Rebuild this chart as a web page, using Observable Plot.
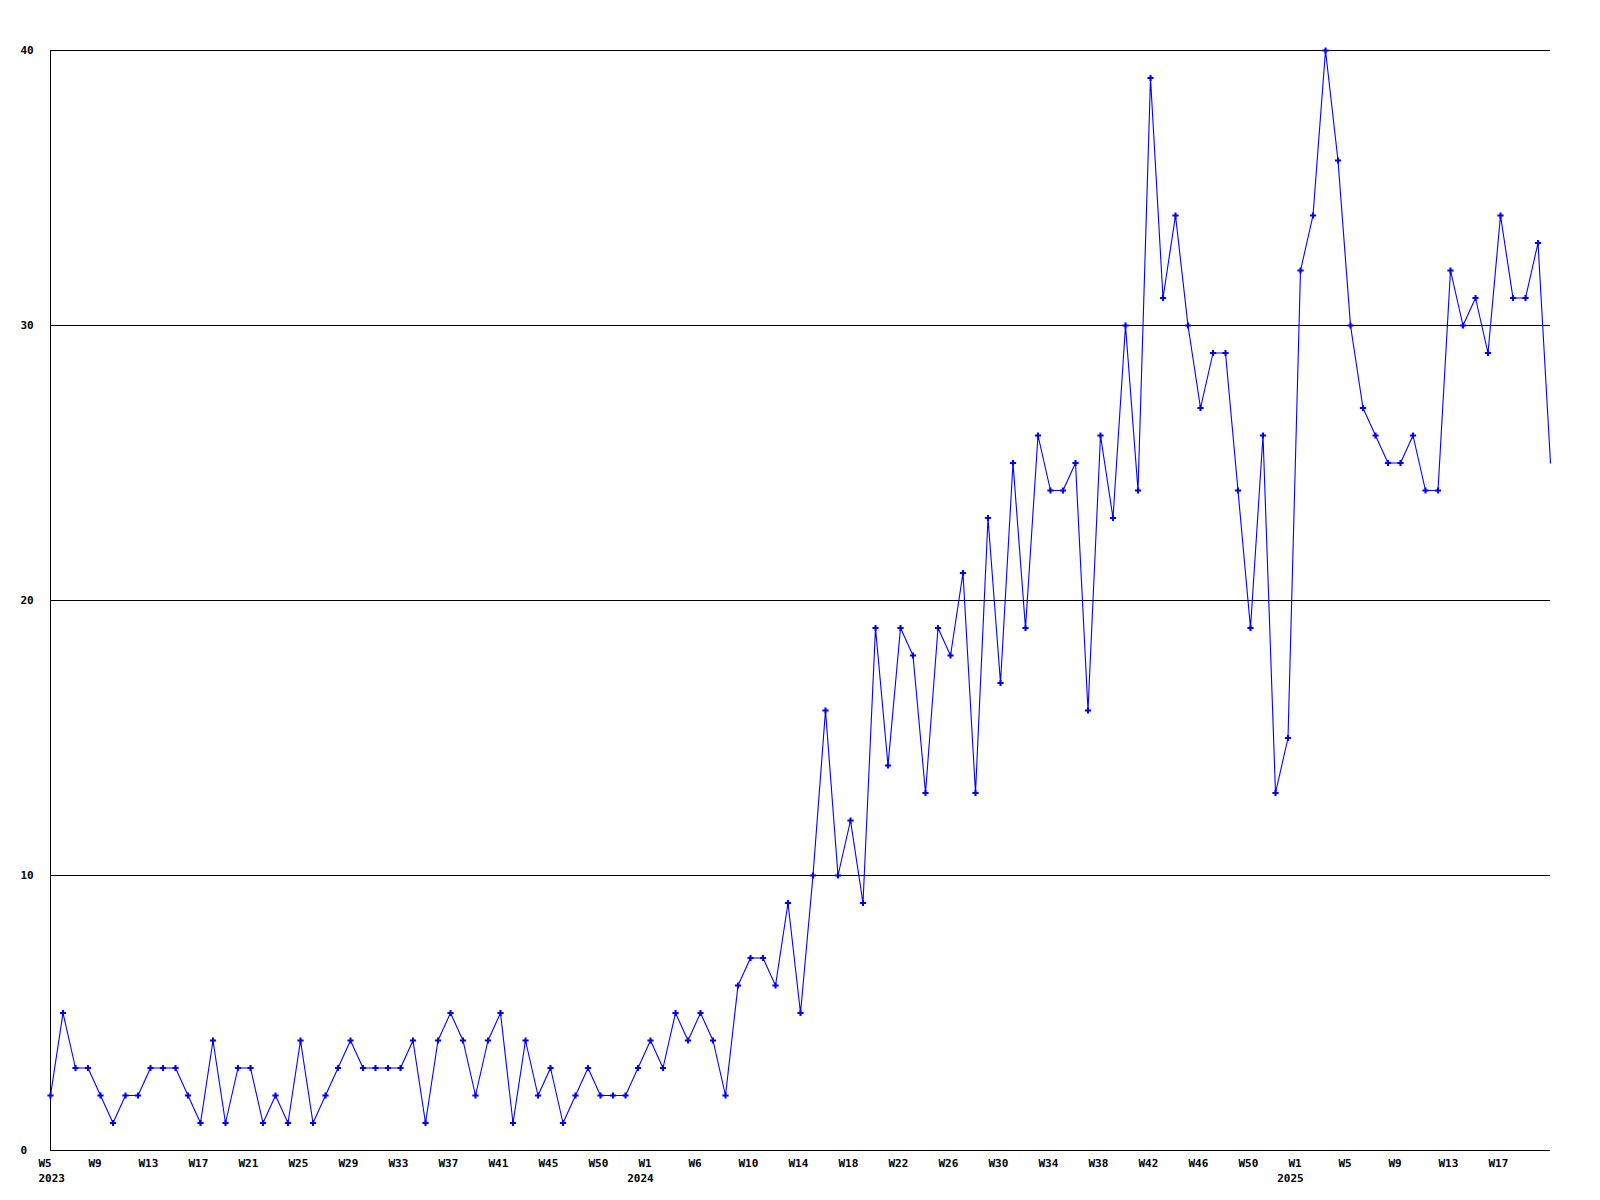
<!DOCTYPE html>
<html>
<head>
<meta charset="utf-8">
<script src="https://cdn.jsdelivr.net/npm/d3@7"></script>
<script src="https://cdn.jsdelivr.net/npm/@observablehq/plot@0.6"></script>
<style>
  html, body { margin: 0; padding: 0; background: #ffffff; }
  #chart svg { display: block; }
</style>
</head>
<body>
<div id="chart"></div>
<script>
// Weekly counts
const values2023 = [ // W5 .. W52
  2, 5, 3, 3, 2, 1, 2, 2, 3, 3, 3, 2, 1, 4, 1, 3, 3, 1, 2, 1, 4, 1, 2, 3,
  4, 3, 3, 3, 3, 4, 1, 4, 5, 4, 2, 4, 5, 1, 4, 2, 3, 1, 2, 3, 2, 2, 2, 3
];
const values2024 = [ // W1 .. W52
  4, 3, 5, 4, 5, 4, 2, 6, 7, 7, 6, 9, 5, 10, 16, 10, 12, 9, 19, 14, 19, 18, 13, 19,
  18, 21, 13, 23, 17, 25, 19, 26, 24, 24, 25, 16, 26, 23, 30, 24, 39, 31, 34, 30, 27, 29,
  29, 24, 19, 26, 13, 15
];
const values2025 = [ // W1 .. W21
  32, 34, 40, 36, 30, 27, 26, 25, 25, 26, 24, 24, 32, 30, 31, 29, 34, 31, 31, 33, 25
];
const firstWeeks = {2023: 5, 2024: 1, 2025: 1};

// Tick labels as printed on the reference x axis (one every 4 weeks)
const xTickLabels = [
  "W5", "W9", "W13", "W17", "W21", "W25", "W29", "W33", "W37", "W41", "W45", "W50",
  "W1", "W6", "W10", "W14", "W18", "W22", "W26", "W30", "W34", "W38", "W42", "W46", "W50",
  "W1", "W5", "W9", "W13", "W17"
];
const yTicks = [0, 10, 20, 30, 40];
const tickStep = 4;

// Build the table
const data = [];
for (const [year, vals] of [[2023, values2023], [2024, values2024], [2025, values2025]]) {
  vals.forEach((v, k) => data.push({i: data.length, year, week: firstWeeks[year] + k, value: v}));
}
const lastIndex = data.length - 1;

const ticks = xTickLabels.map((label, k) => ({i: k * tickStep, label, year: data[k * tickStep].year}));
// year label under the first tick of each year
const yearTicks = ticks.filter((t, k) => k === 0 || ticks[k - 1].year !== t.year);

const font = "'DejaVu Sans Mono', 'Liberation Mono', monospace";

const chart = Plot.plot({
  width: 1600,
  height: 1200,
  marginLeft: 50,
  marginRight: 50,
  marginTop: 50,
  marginBottom: 50,
  style: {fontFamily: font, fontSize: "11px", fontWeight: "bold", color: "#000", background: "#fff"},
  x: {type: "linear", domain: [0, lastIndex], axis: null},
  y: {type: "linear", domain: [0, 40], axis: null},
  marks: [
    Plot.ruleY(yTicks.filter(d => d > 0), {stroke: "#000", strokeWidth: 1, strokeOpacity: 1}),
    Plot.ruleY([0], {stroke: "#000", strokeWidth: 1}),
    Plot.ruleX([0], {y1: 0, y2: 40, stroke: "#000", strokeWidth: 1}),
    Plot.text(yTicks, {
      y: d => d, text: d => String(d), frameAnchor: "left", textAnchor: "start", dx: -30,
      fill: "#000", fontWeight: "bold"
    }),
    Plot.text(ticks, {
      x: "i", text: "label", frameAnchor: "bottom", textAnchor: "start", lineAnchor: "middle",
      dx: -12, dy: 13, fill: "#000", fontWeight: "bold"
    }),
    Plot.text(yearTicks.slice(0, 1), {
      x: "i", text: d => String(d.year), frameAnchor: "bottom", textAnchor: "start", lineAnchor: "middle",
      dx: -12, dy: 27.5, fill: "#000", fontWeight: "bold"
    }),
    Plot.text(yearTicks.slice(1), {
      x: "i", text: d => String(d.year), frameAnchor: "bottom", textAnchor: "middle", lineAnchor: "middle",
      dx: -10, dy: 27.5, fill: "#000", fontWeight: "bold"
    }),
    Plot.line(data, {x: "i", y: "value", stroke: "#0000ff", strokeWidth: 1.1}),
    Plot.dot(data, {filter: d => d.i < lastIndex, x: "i", y: "value", symbol: "cross", r: 2.6, fill: "#0000ff", stroke: "none"})
  ]
});
document.getElementById("chart").appendChild(chart);
</script>
</body>
</html>
